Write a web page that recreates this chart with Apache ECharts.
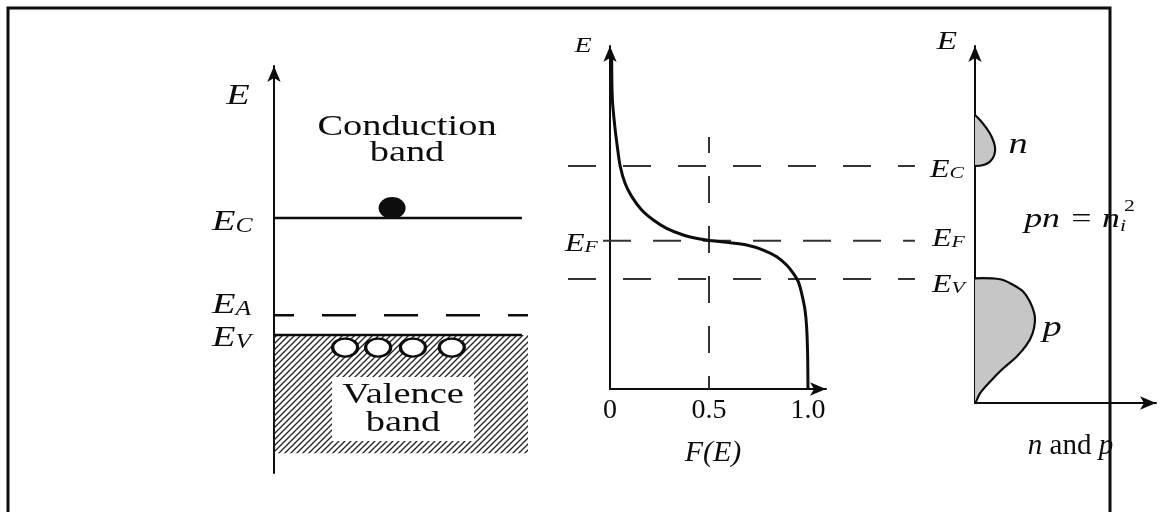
<!DOCTYPE html>
<html>
<head>
<meta charset="utf-8">
<script src="https://cdn.jsdelivr.net/npm/echarts@6/dist/echarts.min.js"></script>
<style>html,body{margin:0;padding:0;background:#fff}#main{width:1164px;height:512px}</style>
</head>
<body>
<div id="main"></div>
<script>
// left panel: band diagram, E in eV measured from EV
var bandE = [1.12, 0.19, 0];              // EC, EA, EV
var bandEnd = [0.976, 1.0, 0.976];
var bandDash = ['solid', [34, 28], 'solid'];
var electronX = [0.465], electronE = [1.215];
var holeX = [0.28, 0.41, 0.547, 0.70], holeE = -0.12;
var hatchX = [0, 1.0], hatchE = [0, -1.13];

// middle panel: Fermi-Dirac F(E)
var fermiF = [0.0085, 0.012, 0.025, 0.037, 0.051, 0.076, 0.11, 0.16, 0.219, 0.286, 0.37, 0.455, 0.513, 0.589, 0.69, 0.774, 0.842, 0.892, 0.926, 0.951, 0.968, 0.985, 0.993, 0.998, 1.0];
var fermiE = [2.19, 1.78, 1.5, 1.311, 1.123, 0.948, 0.816, 0.684, 0.585, 0.502, 0.436, 0.396, 0.38, 0.363, 0.337, 0.287, 0.221, 0.139, 0.056, -0.026, -0.142, -0.307, -0.472, -0.736, -1.09];
var levelE = [1.12, 0.38, 0];             // EC, EF, EV
var levelStart = [-0.212, -0.035, -0.212];
var levelDash = [[28, 27], [28, 22], [28, 27]];
var levelEnd = 1.54;
var halfE = [1.407, -1.09];
var fTickLabels = {'0': '0', '0.5': '0.5', '1': '1.0'};

// right panel: carrier distributions
var nConc = [0, 0.083, 0.194, 0.278, 0.333, 0.322, 0.25, 0.139, 0];
var nE = [1.625, 1.576, 1.493, 1.41, 1.311, 1.229, 1.163, 1.13, 1.12];
var pConc = [0, 0.417, 0.639, 0.806, 0.917, 0.989, 1.0, 0.961, 0.861, 0.694, 0.472, 0.25, 0.083, 0.017, 0];
var pE = [0.007, -0.003, -0.059, -0.126, -0.225, -0.34, -0.423, -0.538, -0.654, -0.77, -0.885, -1.018, -1.133, -1.216, -1.229];

var FONT = 'Liberation Serif';
var INK = '#0d0d0d';

var hatch = document.createElement('canvas');
hatch.width = 6; hatch.height = 6;
var hc = hatch.getContext('2d');
hc.strokeStyle = '#222'; hc.lineWidth = 1.3;
hc.beginPath();
hc.moveTo(0, 6); hc.lineTo(6, 0);
hc.moveTo(-1, 1); hc.lineTo(1, -1);
hc.moveTo(5, 7); hc.lineTo(7, 5);
hc.stroke();

function arrowLine(){
	return {show: true, onZero: false, symbol: ['none', 'arrow'], symbolSize: [10, 16], lineStyle: {color: INK, width: 2}};
}
function hidden(){
	return {show: false};
}

function txt(x, y, text, size, italic, align, rich){
	return {type: 'text', x: x, y: y, scaleX: 1.28, z: 100, style: {
		text: text, fontFamily: FONT, fontSize: size, fontStyle: italic ? 'italic' : 'normal', fill: INK,
		textAlign: align || 'center', textVerticalAlign: 'middle', align: align || 'center', verticalAlign: 'middle',
		lineHeight: size * 0.85, rich: rich
	}};
}

//E with a dropped subscript
function subRich(s){
	return {
		e: {fontFamily: FONT, fontStyle: 'italic', fontSize: s, lineHeight: s, verticalAlign: 'top', padding: [0, 0, Math.round(s * 0.32), 0], fill: INK},
		b: {fontFamily: FONT, fontStyle: 'italic', fontSize: Math.round(s * 0.68), lineHeight: Math.round(s * 0.7), verticalAlign: 'bottom', fill: INK}
	};
}
function level(x, y, sub, s){
	return txt(x, y, '{e|E}{b|' + sub + '}', s, true, 'left', subRich(s));
}

var series = [];
// hatched valence band
series.push({
	type: 'custom', xAxisIndex: 0, yAxisIndex: 0, z: 1, data: [[0, 0]],
	renderItem: function(params, api){
		var a = api.coord([hatchX[0], hatchE[0]]);
		var b = api.coord([hatchX[1], hatchE[1]]);
		return {type: 'rect', shape: {x: a[0], y: a[1], width: b[0] - a[0], height: b[1] - a[1]},
			style: {fill: {image: hatch, repeat: 'repeat'}}};
	}
});
for(var i = 0; i < bandE.length; i++){
	series.push({
		type: 'line', xAxisIndex: 0, yAxisIndex: 0, symbol: 'none', z: 3,
		data: [[0, bandE[i]], [bandEnd[i], bandE[i]]],
		lineStyle: {color: INK, width: 2.5, type: bandDash[i], dashOffset: i == 1 ? 14 : 0}
	});
}
series.push({
	type: 'scatter', xAxisIndex: 0, yAxisIndex: 0, z: 4, symbol: 'circle', symbolSize: [27, 22],
	data: electronX.map(function(x, k){ return [x, electronE[k]]; }),
	itemStyle: {color: INK, opacity: 1}
});
series.push({
	type: 'scatter', xAxisIndex: 0, yAxisIndex: 0, z: 4, symbol: 'circle', symbolSize: [25, 18],
	data: holeX.map(function(x){ return [x, holeE]; }),
	itemStyle: {color: '#fff', borderColor: INK, borderWidth: 2.8, opacity: 1}
});

// middle panel: dashed guide lines live in a wider overlay grid (3) with the same E scale
for(var j = 0; j < levelE.length; j++){
	series.push({
		type: 'line', xAxisIndex: 3, yAxisIndex: 3, symbol: 'none', z: 2,
		data: [[levelStart[j], levelE[j]], [levelEnd, levelE[j]]],
		lineStyle: {color: '#333', width: 2, type: levelDash[j]}
	});
}
series.push({
	type: 'line', xAxisIndex: 3, yAxisIndex: 3, symbol: 'none', z: 2,
	data: [[0.5, halfE[0]], [0.5, halfE[1]]],
	lineStyle: {color: '#333', width: 2, type: [27, 23], dashOffset: 11}
});
series.push({
	type: 'line', xAxisIndex: 1, yAxisIndex: 1, symbol: 'none', smooth: 0.3, z: 3,
	data: fermiF.map(function(f, k){ return [f, fermiE[k]]; }),
	lineStyle: {color: INK, width: 3}
});

// right panel, n and p lobes
function lobe(xs, es){
	return {
		type: 'custom', xAxisIndex: 2, yAxisIndex: 2, z: 2, data: [[0, 0]],
		renderItem: function(params, api){
			var pts = xs.map(function(x, k){ return api.coord([x, es[k]]); });
			return {type: 'polyline', shape: {points: pts, smooth: 0.35},
				style: {fill: '#c6c6c6', stroke: INK, lineWidth: 2.2}};
		}
	};
}
series.push(lobe(nConc, nE));
series.push(lobe(pConc, pE));

var option = {
	animation: false,
	backgroundColor: '#fff',
	grid: [
		{left: 274, top: 66, width: 254, height: 407},
		{left: 610, top: 46, width: 216, height: 343},
		{left: 975, top: 46, width: 181, height: 357},
		{left: 568, top: 46, width: 347, height: 343}
	],
	xAxis: [
		{gridIndex: 0, type: 'value', min: 0, max: 1, show: false},
		{gridIndex: 1, type: 'value', min: 0, max: 1.091, interval: 0.5,
			axisLine: arrowLine(), axisTick: hidden(), splitLine: hidden(),
			axisLabel: {margin: 8, color: INK, fontFamily: FONT, fontSize: 28, showMaxLabel: false,
				formatter: function(v){ return fTickLabels[String(v)] || ''; }},
			name: '{i|F}(E)', nameLocation: 'middle', nameGap: 49,
			nameTextStyle: {color: INK, fontFamily: FONT, fontSize: 30, fontStyle: 'italic', padding: [0, 10, 0, 0],
				rich: {i: {fontFamily: FONT, fontSize: 30, fontStyle: 'italic', color: INK}}}
		},
		{gridIndex: 2, type: 'value', min: 0, max: 3.02,
			axisLine: arrowLine(), axisTick: hidden(), splitLine: hidden(), axisLabel: hidden(),
			name: '{i|n} and {i|p}', nameLocation: 'middle', nameGap: 29,
			nameTextStyle: {color: INK, fontFamily: FONT, fontSize: 29, padding: [0, 0, 0, 10],
				rich: {i: {fontFamily: FONT, fontSize: 29, fontStyle: 'italic', color: INK}}}
		},
		{gridIndex: 3, type: 'value', min: -0.2121, max: 1.5404, show: false}
	],
	yAxis: [
		{gridIndex: 0, type: 'value', min: -1.32, max: 2.574, axisLine: arrowLine(),
			axisTick: hidden(), axisLabel: hidden(), splitLine: hidden()},
		{gridIndex: 1, type: 'value', min: -1.09, max: 2.309, axisLine: arrowLine(),
			axisTick: hidden(), axisLabel: hidden(), splitLine: hidden()},
		{gridIndex: 2, type: 'value', min: -1.229, max: 2.309, axisLine: arrowLine(),
			axisTick: hidden(), axisLabel: hidden(), splitLine: hidden()},
		{gridIndex: 3, type: 'value', min: -1.09, max: 2.309, show: false}
	],
	graphic: [
		{type: 'rect', z: 120, shape: {x: 8, y: 8, width: 1102, height: 540}, style: {fill: 'none', stroke: INK, lineWidth: 3}},
		txt(238, 96, 'E', 30, true),
		txt(583, 46, 'E', 22, true),
		txt(947, 42, 'E', 26, true),
		txt(407, 140, 'Conduction\nband', 30, false),
		(function(){
			var t = txt(403, 409, 'Valence\nband', 30, false);
			t.style.backgroundColor = '#fff';
			t.style.padding = [4, 8];
			t.style.lineHeight = 28;
			return t;
		})(),
		level(212, 222, 'C', 30),
		level(212, 305, 'A', 30),
		level(212, 338, 'V', 30),
		level(565, 244, 'F', 25),
		level(930, 170, 'C', 25),
		level(932, 239, 'F', 25),
		level(932, 285, 'V', 25),
		txt(1018, 145, 'n', 30, true),
		txt(1052, 328, 'p', 30, true),
		txt(1120, 220, 'pn = n', 28, true, 'right'),
		txt(1120, 227, 'i', 17, true, 'left'),
		txt(1124, 207, '2', 17, false, 'left')
	],
	series: series
};

var myChart = echarts.init(document.getElementById('main'));
myChart.setOption(option);
</script>
</body>
</html>
